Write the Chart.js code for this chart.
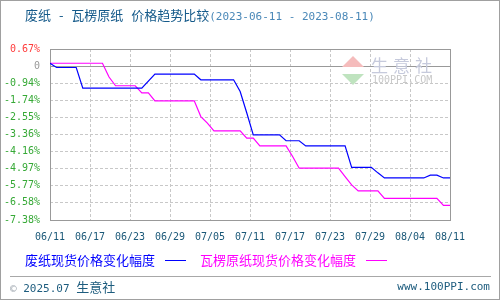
<!DOCTYPE html>
<html lang="zh">
<head>
<meta charset="UTF-8">
<title>废纸 - 瓦楞原纸 价格趋势比较</title>
<script src="https://cdn.jsdelivr.net/npm/chart.js"></script>
<style>
    body { margin: 0; padding: 0; background: #fff; }
    #wrap { position: relative; width: 500px; height: 300px; overflow: hidden; }
    #chart { position: absolute; left: 0; top: 0; }
    #frame { position: absolute; left: 0; top: 0; width: 500px; height: 300px; box-sizing: border-box; border: 1px solid #a0a0a0; pointer-events: none; }
    .txt { position: absolute; white-space: nowrap; }
    #title { left: 25px; top: 5px; font: 13px/19px "Noto Sans CJK SC", sans-serif; color: #155a8a; word-spacing: 5px; }
    #title .range { font: 11px/19px "DejaVu Sans Mono", monospace; color: #4a88b8; word-spacing: 0; }
    .legend { top: 251px; font: 13px/18px "Noto Sans CJK SC", sans-serif; }
    .legline { position: absolute; top: 260px; width: 21px; height: 0; }
    #sep { position: absolute; left: 10px; top: 276px; width: 481px; height: 1px; background: #a8a8a8; }
    #copy { left: 10px; top: 278px; font: 11px/17px "DejaVu Sans Mono", monospace; color: #1d5c7e; }
    #copy .c { color: #a0a8b0; }
    #copy .cn { font: 13px/17px "Noto Sans CJK SC", sans-serif; }
    #site { right: 10px; top: 278px; font: 11px/17px "DejaVu Sans Mono", monospace; color: #1d5c7e; }
    .tri { position: absolute; width: 0; height: 0; border-left: 11px solid transparent; border-right: 11px solid transparent; }
    #wm1 { left: 371px; top: 54px; font: 17px/22px "Noto Sans CJK SC", sans-serif; color: #c6cadc; letter-spacing: 5px; }
    #wm2 { left: 372px; top: 74px; font: 10px/12px "DejaVu Sans Mono", monospace; color: #c8c8c8; }
</style>
</head>
<body>
<div id="wrap">
    <canvas id="chart" width="500" height="300"></canvas>
    <div id="title" class="txt">废纸 - 瓦楞原纸 价格趋势比较<span class="range">(2023-06-11 - 2023-08-11)</span></div>
    <div class="tri" style="left:342px; top:56px; border-bottom:11px solid #f5bcbc;"></div>
    <div class="tri" style="left:342px; top:74px; border-top:11px solid #bfe3bf;"></div>
    <div id="wm1" class="txt">生意社</div>
    <div id="wm2" class="txt">100PPI.COM</div>
    <div class="txt legend" style="left:25px; color:#0000ff;">废纸现货价格变化幅度</div>
    <div class="legline" style="left:165px; border-top:1px solid #0000ff;"></div>
    <div class="txt legend" style="left:200px; color:#ff00ff;">瓦楞原纸现货价格变化幅度</div>
    <div class="legline" style="left:366px; border-top:1px solid #ff00ff;"></div>
    <div id="sep"></div>
    <div id="copy" class="txt"><span class="c">©</span> 2025.07 <span class="cn">生意社</span></div>
    <div id="site" class="txt">www.100PPI.com</div>
    <div id="frame"></div>
</div>
<script>
    // x = days since 2023-06-11, y = change in %
    const xLabels = ['06/11', '06/17', '06/23', '06/29', '07/05', '07/11', '07/17', '07/23', '07/29', '08/04', '08/11'];
    const yLabels = ['0.67%', '0', '-0.94%', '-1.74%', '-2.55%', '-3.36%', '-4.16%', '-4.97%', '-5.77%', '-6.58%', '-7.38%'];
    const yMax = 0.67;
    const yMin = -7.38;
    const dayCount = 61;

    const wasteDays = [0, 1, 4, 5, 14, 16, 22, 23, 28, 29, 30, 31, 35, 36, 38, 39, 45, 46, 49, 50, 51, 57, 58, 59, 60, 61];
    const wasteValues = [0, -0.2, -0.2, -1.17, -1.17, -0.51, -0.51, -0.78, -0.78, -1.33, -2.33, -3.37, -3.37, -3.65, -3.65, -3.89, -3.89, -4.90, -4.90, -5.16, -5.40, -5.40, -5.27, -5.27, -5.40, -5.40];

    const boardDays = [0, 8, 9, 10, 13, 14, 15, 16, 22, 23, 24, 25, 29, 30, 31, 32, 36, 37, 38, 44, 45, 46, 47, 50, 51, 59, 60, 61];
    const boardValues = [0, 0, -0.65, -1.06, -1.06, -1.40, -1.40, -1.77, -1.77, -2.51, -2.82, -3.18, -3.18, -3.53, -3.53, -3.89, -3.89, -4.39, -4.94, -4.94, -5.34, -5.73, -6.01, -6.01, -6.36, -6.36, -6.69, -6.69];

    const toPoints = (xs, ys) => xs.map((x, i) => ({ x: x, y: ys[i] }));

    // plot frame and the solid "0" line
    const framePlugin = {
        id: 'framePlugin',
        beforeDatasetsDraw(chart) {
            const { ctx, chartArea: a, scales } = chart;
            const yZero = scales.y.getPixelForValue(scales.y.ticks[1].value);
            ctx.save();
            ctx.strokeStyle = '#999';
            ctx.lineWidth = 1;
            ctx.beginPath();
            ctx.moveTo(a.left, Math.round(yZero) + 0.5);
            ctx.lineTo(a.right, Math.round(yZero) + 0.5);
            ctx.stroke();
            ctx.strokeRect(a.left + 0.5, a.top + 0.5, a.right - a.left, a.bottom - a.top);
            ctx.restore();
        }
    };

    new Chart(document.getElementById('chart'), {
        type: 'line',
        data: {
            datasets: [{
                label: '废纸现货价格变化幅度',
                data: toPoints(wasteDays, wasteValues),
                borderColor: '#0000ff',
                borderWidth: 1.2,
                pointRadius: 0,
                tension: 0
            }, {
                label: '瓦楞原纸现货价格变化幅度',
                data: toPoints(boardDays, boardValues),
                borderColor: '#ff00ff',
                borderWidth: 1.2,
                pointRadius: 0,
                tension: 0
            }]
        },
        options: {
            responsive: false,
            animation: false,
            devicePixelRatio: 1,
            layout: { padding: { top: 49, right: 50, bottom: 0, left: 0 } },
            plugins: { legend: { display: false }, title: { display: false }, tooltip: { enabled: false } },
            scales: {
                x: {
                    type: 'linear',
                    min: 0,
                    max: dayCount,
                    afterFit: s => { s.height = 80; },
                    afterBuildTicks: s => {
                        s.ticks = xLabels.map((_, i) => ({ value: i * dayCount / (xLabels.length - 1) }));
                    },
                    grid: { color: '#c8c8c8', drawTicks: false, lineWidth: 1 },
                    border: { display: false, dash: [3, 2] },
                    ticks: {
                        padding: 11,
                        maxRotation: 0,
                        autoSkip: false,
                        color: '#1a5878',
                        font: { family: 'DejaVu Sans Mono', size: 10 },
                        callback: (v, i) => xLabels[i]
                    }
                },
                y: {
                    min: yMin,
                    max: yMax,
                    afterFit: s => { s.width = 50; },
                    afterBuildTicks: s => {
                        s.ticks = yLabels.map((_, i) => ({ value: yMax - i * (yMax - yMin) / (yLabels.length - 1) }));
                    },
                    grid: { color: '#c8c8c8', drawTicks: false, lineWidth: 1 },
                    border: { display: false, dash: [3, 2] },
                    ticks: {
                        padding: 10,
                        autoSkip: false,
                        font: { family: 'DejaVu Sans Mono', size: 10 },
                        color: ctx => ctx.index === 0 ? '#ff3b3b' : (ctx.index === 1 ? '#999999' : '#36a936'),
                        callback: (v, i) => yLabels[i]
                    }
                }
            }
        },
        plugins: [framePlugin]
    });
</script>
</body>
</html>
